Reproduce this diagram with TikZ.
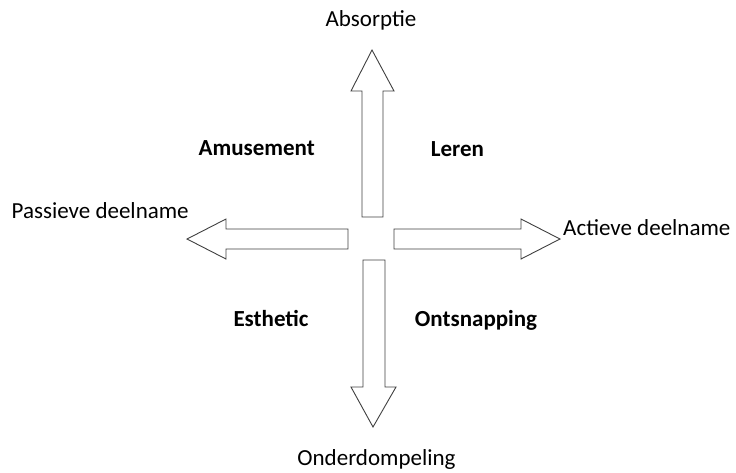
\documentclass[tikz,border=0pt]{standalone}
\usepackage{fontspec}
\setmainfont{Carlito}
\usepackage{tikz}
\usetikzlibrary{positioning, calc}

\begin{document}
\begin{tikzpicture}[
    x=1pt, y=-1pt,
    every node/.style={font=\fontsize{23}{27}\selectfont, inner sep=0pt},
    axislbl/.style={anchor=base},
    quadlbl/.style={anchor=base, font=\fontsize{23}{27}\selectfont\bfseries},
    blockarrow/.style={draw=black!75, line width=0.9pt, fill=white, line join=miter},
  ]
  \useasboundingbox (0,0) rectangle (736,472);

  % ---- Block arrows ----
  \draw[blockarrow] (362,217) -- (362,91) -- (351,91) -- (372,50) -- (394,91) -- (383,91) -- (383,217) -- cycle;
  \draw[blockarrow] (348,229) -- (226,229) -- (226,219) -- (187,239) -- (226,259) -- (226,249) -- (348,249) -- cycle;
  \draw[blockarrow] (394,229) -- (521,229) -- (521,219) -- (560,239) -- (521,259) -- (521,249) -- (394,249) -- cycle;
  \draw[blockarrow] (363,260) -- (363,387) -- (351,387) -- (373,427) -- (396,387) -- (385,387) -- (385,260) -- cycle;

  % ---- Axis labels ----
  \node[axislbl] (absorptie) at (371,26.7) {Absorptie};
  \node[axislbl, anchor=base west] (passief) at (11.5,218.3) {Passieve deelname};
  \node[axislbl, anchor=base west] (actief) at (563,235) {Actieve deelname};
  \node[axislbl] (onder) at (376.5,465) {Onderdompeling};

  % ---- Quadrant labels ----
  \node[quadlbl] (amusement) at (256.7,155) {Amusement};
  \node[quadlbl] (leren) at (457.5,156.7) {Leren};
  \node[quadlbl] (esthetic) at (271,326.7) {Esthetic};
  \node[quadlbl] (ontsnap) at (476,326.7) {Ontsnapping};

\end{tikzpicture}
\end{document}
